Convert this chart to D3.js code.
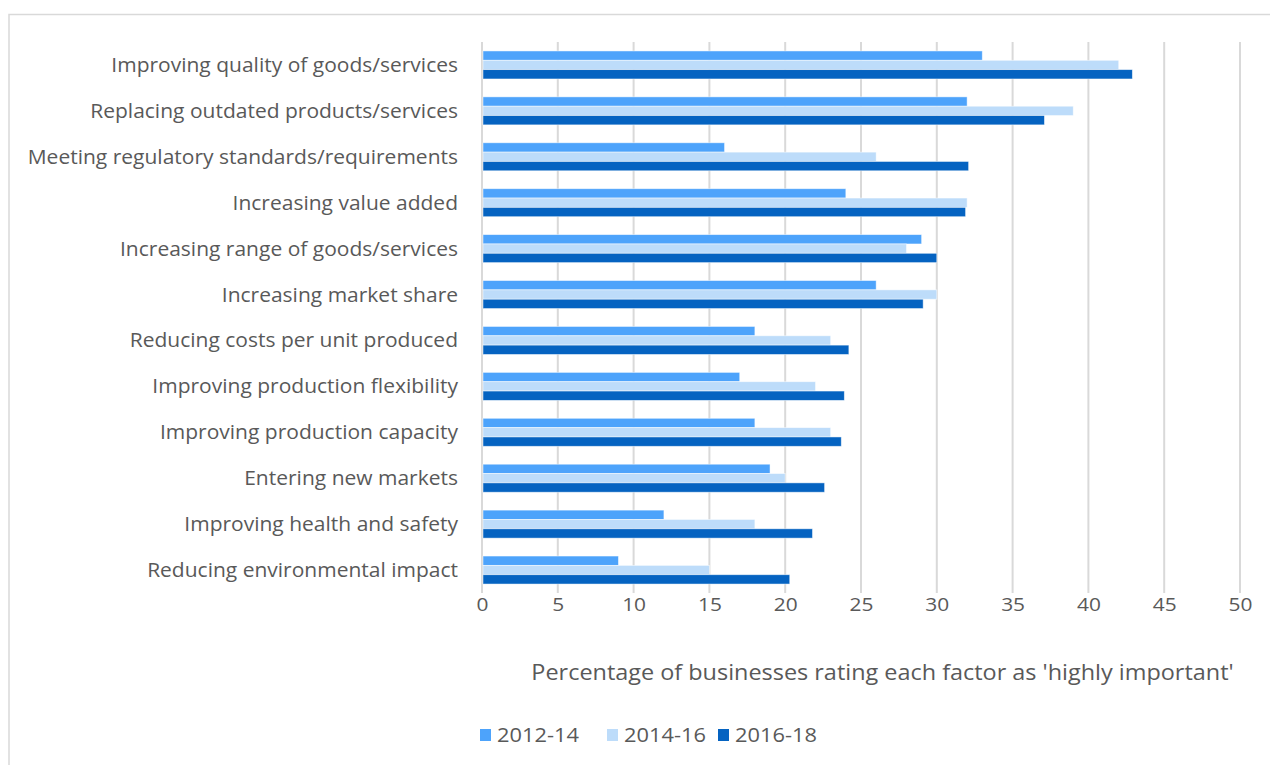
<!DOCTYPE html>
<html>
<head>
<meta charset="utf-8">
<script src="https://cdn.jsdelivr.net/npm/d3@7"></script>
<style>
  body { margin: 0; background: #fff; }
  text { font-family: "Open Sans", Lato, sans-serif; fill: #595959; }
</style>
</head>
<body>
<div id="chart"></div>
<script>
// factors, top to bottom
const factors = [
  "Improving quality of goods/services",
  "Replacing outdated products/services",
  "Meeting regulatory standards/requirements",
  "Increasing value added",
  "Increasing range of goods/services",
  "Increasing market share",
  "Reducing costs per unit produced",
  "Improving production flexibility",
  "Improving production capacity",
  "Entering new markets",
  "Improving health and safety",
  "Reducing environmental impact"
];

const periods = ["2012-14", "2014-16", "2016-18"];

const values2012 = [33, 32, 16, 24, 29, 26, 18, 17, 18, 19, 12, 9];
const values2014 = [42, 39, 26, 32, 28, 30, 23, 22, 23, 20, 18, 15];
const values2016 = [42.9, 37.1, 32.1, 31.9, 30, 29.1, 24.2, 23.9, 23.7, 22.6, 21.8, 20.3];

const xTicks = [0, 5, 10, 15, 20, 25, 30, 35, 40, 45, 50];
const colors = ["#4da3fb", "#bddcfa", "#0563c1"];

const width = 1270;
const height = 765;

const svg = d3.select("#chart")
  .append("svg")
  .attr("width", width)
  .attr("height", height);

// chart frame
svg.append("path")
  .attr("d", "M9,765 V14.5 H1270")
  .attr("fill", "none")
  .attr("stroke", "#d9d9d9")
  .attr("stroke-width", 1.5);

const xScale = d3.scaleLinear()
  .domain([0, 50])
  .range([482, 1240]);

const yScale = d3.scaleBand()
  .domain(factors)
  .range([42, 593])
  .paddingInner(0.39)
  .paddingOuter(0.195);

const subScale = d3.scaleBand()
  .domain(periods)
  .range([0, yScale.bandwidth()]);

// text in the picture is a little wider than the font, stretch it
function wideText(sel, x, y, sx, anchor, size) {
  return sel.append("text")
    .attr("transform", "translate(" + x + "," + y + ") scale(" + sx + ",1)")
    .attr("text-anchor", anchor)
    .style("font-size", size + "px");
}

// gridlines
svg.append("g")
  .selectAll("line")
  .data(xTicks)
  .enter()
  .append("line")
  .attr("x1", (d) => xScale(d))
  .attr("x2", (d) => xScale(d))
  .attr("y1", 42)
  .attr("y2", 593)
  .attr("stroke", "#d9d9d9")
  .attr("stroke-width", 2);

// bars
const table = factors.map((f, i) => ({
  factor: f,
  vals: [values2012[i], values2014[i], values2016[i]]
}));

const groups = svg.append("g")
  .selectAll("g")
  .data(table)
  .enter()
  .append("g")
  .attr("transform", (d) => "translate(0," + yScale(d.factor) + ")");

groups.selectAll("rect")
  .data((d) => d.vals.map((v, j) => ({ period: periods[j], value: v, idx: j })))
  .enter()
  .append("rect")
  .attr("x", xScale(0) + 1)
  .attr("y", (d) => subScale(d.period))
  .attr("width", (d) => xScale(d.value) - xScale(0) - 1)
  .attr("height", subScale.bandwidth())
  .attr("fill", (d) => colors[d.idx])
  .attr("stroke", "#ffffff")
  .attr("stroke-opacity", 0.6)
  .attr("stroke-width", 0.8);

// category labels
const labelG = svg.append("g");
factors.forEach((f) => {
  wideText(labelG, 458, yScale(f) + yScale.bandwidth() / 2 + 7, 1.05, "end", 20)
    .text(f);
});

// x axis tick labels
const xAxis = d3.axisBottom(xScale)
  .tickValues(xTicks)
  .tickSize(0)
  .tickPadding(0);

const axisG = svg.append("g")
  .attr("transform", "translate(0,598)")
  .call(xAxis);
axisG.select(".domain").remove();
axisG.selectAll("text")
  .attr("transform", "scale(1.1,1)")
  .style("font-size", "19px")
  .style("font-family", "'Open Sans', Lato, sans-serif")
  .attr("fill", "#595959");

// axis title
wideText(svg, 882.5, 680, 1.065, "middle", 22)
  .text("Percentage of businesses rating each factor as 'highly important'");

// legend
const swatchX = [480, 607, 718];
const legend = svg.append("g")
  .selectAll("g")
  .data(periods)
  .enter()
  .append("g")
  .attr("transform", (d, i) => "translate(" + swatchX[i] + ",735)");

legend.append("rect")
  .attr("x", 0)
  .attr("y", -6)
  .attr("width", 11)
  .attr("height", 12)
  .attr("fill", (d, i) => colors[i]);

legend.each(function (d) {
  wideText(d3.select(this), 17, 7, 1.12, "start", 19.5).text(d);
});
</script>
</body>
</html>
